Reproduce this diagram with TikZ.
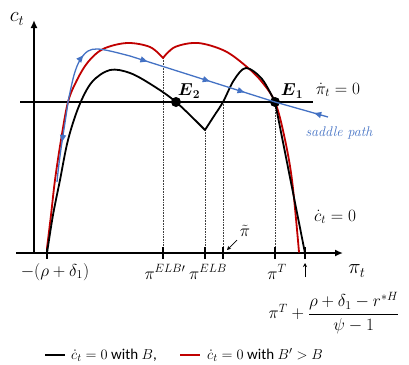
\documentclass[tikz,border=0pt]{standalone}
\usepackage{fontspec}
\setmainfont{Carlito}
\newfontfamily\lmserif{Latin Modern Roman}
\usepackage{amsmath}
\usetikzlibrary{arrows.meta,decorations.markings}
\definecolor{myred}{RGB}{192,0,0}
\definecolor{myblue}{RGB}{68,114,196}
\begin{document}
\begin{tikzpicture}[x=1pt,y=-1pt,
  curve/.style={line width=1.8pt, line join=round, line cap=round},
  blk/.style={curve, black},
  rd/.style={curve, myred},
  bl/.style={line width=1.3pt, myblue},
  ba/.style={postaction={decorate, decoration={markings, mark=at position #1 with {\arrow{Triangle[length=7pt,width=6pt]}}}}},
  axis/.style={line width=1.8pt},
  guide/.style={densely dotted, line width=0.6pt, black!75},
  tickmark/.style={line width=1.5pt},
  lab/.style={font=\fontsize{17}{19}\selectfont, inner sep=0pt},
  bigl/.style={font=\fontsize{22}{24}\selectfont, inner sep=0pt},
  leg/.style={font=\fontsize{15}{17}\selectfont, inner sep=0pt, anchor=west},
  eq/.style={circle, fill=black, inner sep=0pt, minimum size=10pt}
]
\useasboundingbox (0,0) rectangle (409,364);

% guides
\draw[guide] (163,58) -- (163,253);
\draw[guide] (205,130) -- (205,253);
\draw[guide] (223,102) -- (223,253);
\draw[guide] (275,102) -- (275,253);

% axes
\draw[axis, -{Latex[length=8pt,width=7pt]}] (16,253) -- (343,253);
\draw[axis, -{Latex[length=8pt,width=7pt]}] (34,253) -- (34,20);
\draw[axis] (20,102) -- (313,102);

% ticks
\foreach \x in {47,163,205,223,275,305}
  \draw[tickmark] (\x,247) -- (\x,259);

% red curve
\draw[rd] plot[smooth, tension=0.55] coordinates {(47,248) (51,215) (55,180) (61,140) (68,102) (77,80) (88,62) (103,49) (127,43) (150,47) (163,58)};
\draw[rd] plot[smooth, tension=0.55] coordinates {(163,58) (175,47) (198,43) (225,51) (247,67) (262,82) (275,102) (284,135) (292,180) (299,252)};

% black curve
\draw[blk] plot[smooth, tension=0.55] coordinates {(47,253) (53,215) (60,180) (68,140) (79,106) (92,82) (110,70) (130,73) (152,85) (176,102) (205,130)};
\draw[blk] plot[smooth, tension=0.55] coordinates {(205,130) (214,116) (223,102) (234,80) (246,68) (262,79) (275,102)};
\draw[blk] (275,102) -- (305,253);

% equilibria
\node[eq] (E2) at (176,102) {};
\node[eq] (E1) at (275,102) {};

% saddle path
\coordinate (s0) at (68,102);
\coordinate (s1) at (130,56);
\coordinate (s2) at (328,117);
\draw[bl, ba=0.5] (s0) .. controls (65,125) and (60,150) .. (57,182);
\draw[bl, ba=0.5] plot[smooth, tension=0.55] coordinates {(68,102) (74,75) (80,60) (88,51) (97,49) (110,51) (130,56)};
\draw[bl, ba=0.12, ba=0.55, ba=0.79] (s1) -- (E1.center);
\draw[bl, ba=0.26] (s2) -- (E1.center);

% labels
\node[bigl] (ct) at (17,19) {$c_t$};
\node[bigl] (pit) at (357,271) {$\pi_t$};
\node[lab] (lE2) at (189,91) {$\boldsymbol{E}_{\boldsymbol{2}}$};
\node[lab] (lE1) at (292,91) {$\boldsymbol{E}_{\boldsymbol{1}}$};
\node[lab] (pidot) at (338,90) {$\dot\pi_t = 0$};
\node[font=\fontsize{14}{16}\selectfont\lmserif\itshape, text=myblue, inner sep=0pt] (sp) at (339,133) {saddle path};
\node[lab] (cdot) at (335,217) {$\dot c_t = 0$};
\node[lab] (pitil) at (245,231) {$\tilde\pi$};
\draw[-{Stealth[length=4pt,width=4pt]}, line width=0.7pt] (237,240) -- (227,250);
\node[lab] (l1) at (55,272) {$-(\rho+\delta_1)$};
\node[lab] (l2) at (165,272) {$\pi^{ELB\prime}$};
\node[lab] (l3) at (208,272) {$\pi^{ELB}$};
\node[lab] (l4) at (277,272) {$\pi^{T}$};
\draw[-{Stealth[length=4pt,width=4pt]}, line width=0.7pt] (305,277) -- (305,263);
\node[lab] (form) at (334,313) {$\pi^T + \dfrac{\rho+\delta_1-r^{*H}}{\psi-1}$};

% legend
\draw[line width=1.6pt, black] (45,355) -- (65,355);
\node[leg] (lg1) at (71,355) {$\dot c_t = 0$ with $B$,};
\draw[line width=1.6pt, myred] (180,355) -- (200,355);
\node[leg] (lg2) at (207,355) {$\dot c_t = 0$ with $B'>B$};
\end{tikzpicture}
\end{document}
